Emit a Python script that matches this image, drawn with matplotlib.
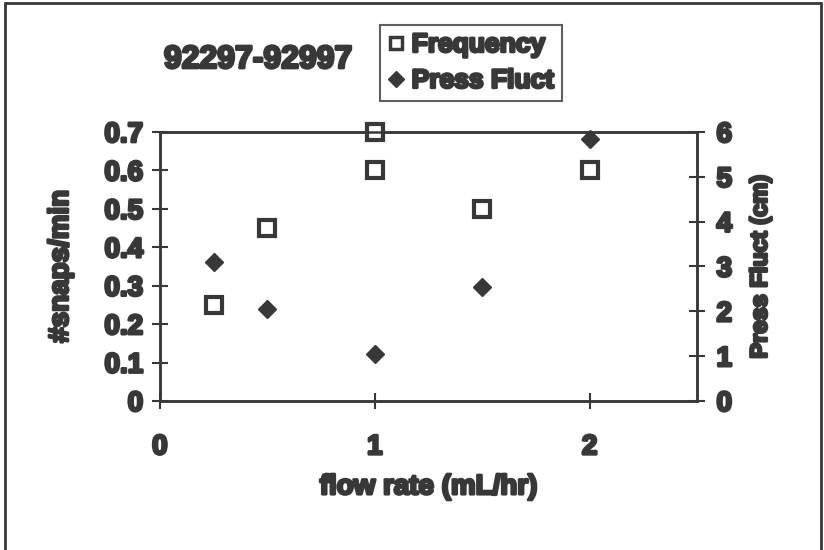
import matplotlib
matplotlib.use("Agg")
import matplotlib.pyplot as plt
from matplotlib.lines import Line2D
from matplotlib.patches import Rectangle
import matplotlib.patheffects as pe

# data
flow_freq = [0.25, 0.5, 1.0, 1.0, 1.5, 2.0]
frequency = [0.25, 0.45, 0.70, 0.60, 0.50, 0.60]
flow_press = [0.25, 0.5, 1.0, 1.5, 2.0]
press_fluct = [3.1, 2.05, 1.05, 2.55, 5.85]

x_ticks = [0, 1, 2]
left_ticks = [0, 0.1, 0.2, 0.3, 0.4, 0.5, 0.6, 0.7]
right_ticks = [0, 1, 2, 3, 4, 5, 6]

ink = "#383838"
plt.rcParams['font.family'] = ['Liberation Sans', 'DejaVu Sans']
plt.rcParams['font.weight'] = 'bold'
heavy = [pe.withStroke(linewidth=2, foreground=ink)]

fig = plt.figure(figsize=(8.24, 5.5), dpi=100)
ax = fig.add_axes([0.194, 0.271, 0.652, 0.489])
ax2 = ax.twinx()

ax.plot(flow_freq, frequency, linestyle='none', marker='s', ms=11,
        mfc='white', mec=ink, mew=3, clip_on=False, zorder=5)
ax2.plot(flow_press, press_fluct, linestyle='none', marker='D', ms=9,
         mfc=ink, mec=ink, clip_on=False, zorder=5)

ax.set_xlim(0, 2.5)
ax.set_ylim(0, 0.7)
ax2.set_ylim(0, 6)
ax.set_xticks(x_ticks)
ax.set_yticks(left_ticks)
ax2.set_yticks(right_ticks)
ax.set_yticklabels(['0'] + [f"{v:.1f}" for v in left_ticks[1:]])

for a in (ax, ax2):
    for s in a.spines.values():
        s.set_color(ink)
        s.set_linewidth(1.8)
    a.tick_params(direction='inout', length=12, width=1.5, color=ink,
                  labelsize=20, labelcolor=ink)
ax.tick_params(axis='x', pad=18)
ax.tick_params(axis='y', pad=6)
ax2.tick_params(axis='y', pad=8)
for lab in ax.get_xticklabels() + ax.get_yticklabels() + ax2.get_yticklabels():
    lab.set_fontweight('bold')
    lab.set_path_effects(heavy)

ax.set_xlabel("flow rate (mL/hr)", fontsize=20, color=ink, labelpad=10,
              fontweight='bold', path_effects=heavy)
ax.set_ylabel("#snaps/min", fontsize=20, color=ink, labelpad=22,
              fontweight='bold', path_effects=heavy)
ax2.set_ylabel("Press Fluct (cm)", fontsize=17, color=ink, labelpad=12,
               fontweight='bold', path_effects=heavy)

fig.text(258 / 824, 1 - 60 / 550, "92297-92997", fontsize=23, color=ink,
         ha='center', va='center', fontweight='bold', path_effects=heavy)

handles = [
    Line2D([], [], linestyle='none', marker='s', ms=9, mfc='white', mec=ink, mew=2.5),
    Line2D([], [], linestyle='none', marker='D', ms=8, mfc=ink, mec=ink),
]
leg = fig.legend(handles, ["Frequency", "Press Fluct"], loc='upper left',
                 bbox_to_anchor=(380 / 824, 1 - 25 / 550), frameon=True,
                 fancybox=False, edgecolor=ink, fontsize=19, handlelength=0.6,
                 handletextpad=0.3, borderpad=0.3, labelspacing=0.45,
                 borderaxespad=0)
leg.get_frame().set_linewidth(1.5)
for t in leg.get_texts():
    t.set_color(ink)
    t.set_fontweight('bold')
    t.set_path_effects(heavy)

fig.patches.append(Rectangle((0.006, -0.01), 0.99, 1.005, transform=fig.transFigure,
                             fill=False, edgecolor=ink, linewidth=2))

fig.savefig("out.png", dpi=100)
